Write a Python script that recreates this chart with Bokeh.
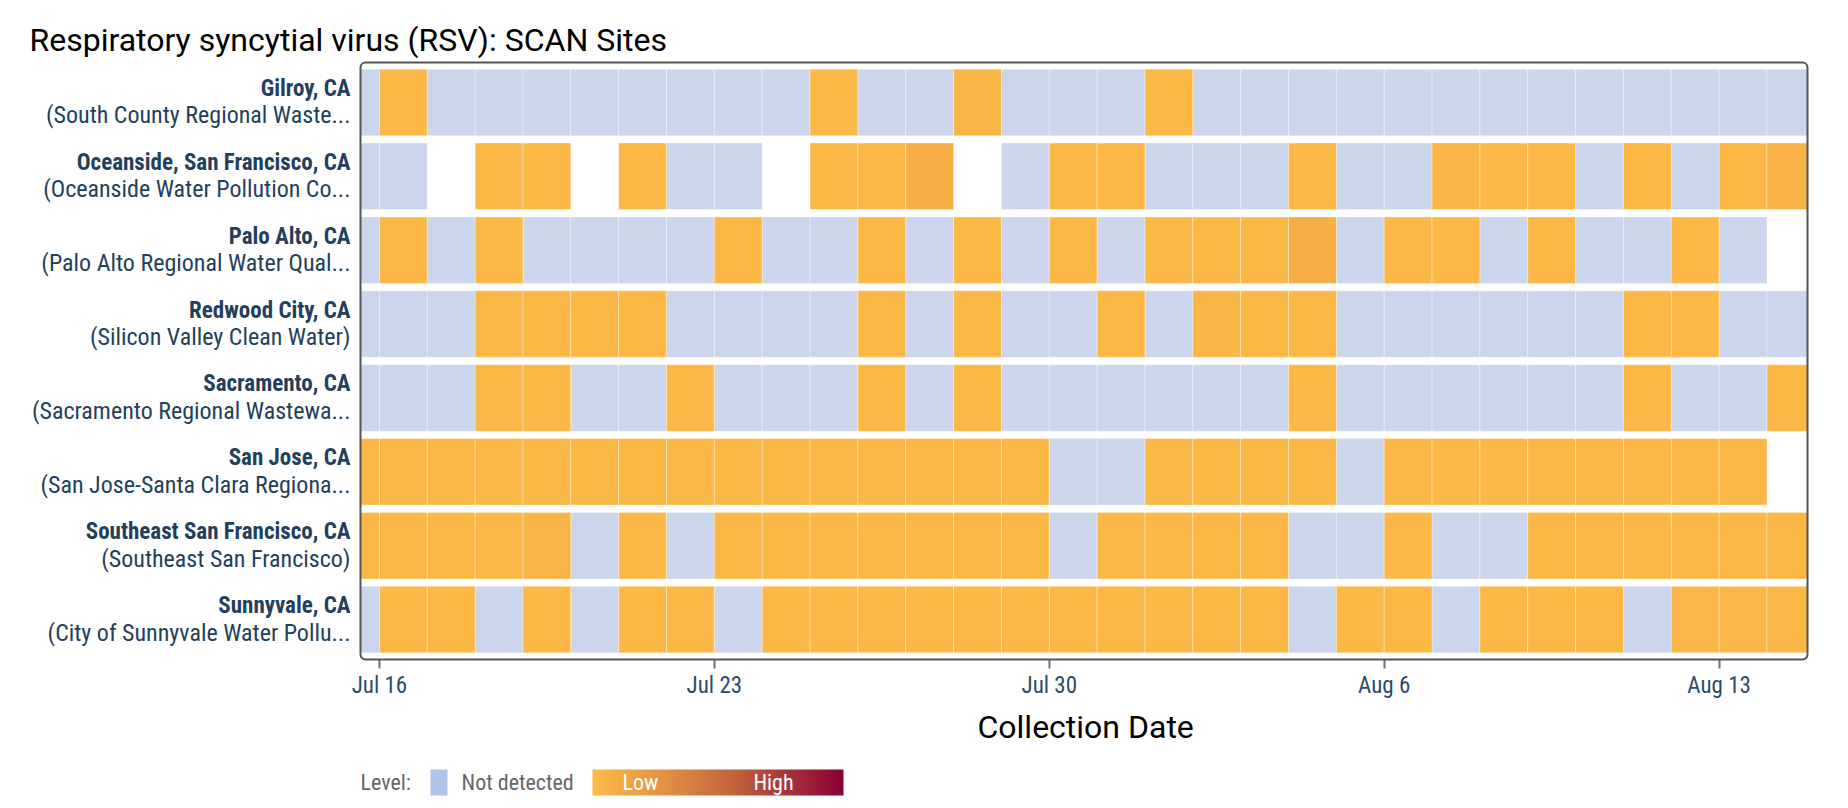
import numpy as np
import pandas as pd
from bokeh.plotting import figure
from bokeh.layouts import column
from bokeh.models import (Range1d, FixedTicker, ColumnDataSource, LinearColorMapper,
                          BoxAnnotation, Title)
from bokeh.transform import linear_cmap
from bokeh.core.properties import value
from bokeh.embed import file_html
from bokeh.resources import INLINE

N = None  # no sample collected that day

sites = ["Gilroy, CA", "Oceanside, San Francisco, CA", "Palo Alto, CA", "Redwood City, CA",
         "Sacramento, CA", "San Jose, CA", "Southeast San Francisco, CA", "Sunnyvale, CA"]
facilities = ["(South County Regional Waste...", "(Oceanside Water Pollution Co...",
              "(Palo Alto Regional Water Qual...", "(Silicon Valley Clean Water)",
              "(Sacramento Regional Wastewa...", "(San Jose-Santa Clara Regiona...",
              "(Southeast San Francisco)", "(City of Sunnyvale Water Pollu..."]

dates = pd.date_range("2023-07-15", "2023-08-14", freq="D")

# level per day, Jul 15 .. Aug 14 (0 = not detected, >0 = relative level on Low..High scale)
gilroy = [0, .02, 0, 0, 0, 0, 0, 0, 0, 0, .02, 0, 0, .05, 0, 0, 0,
          .02, 0, 0, 0, 0, 0, 0, 0, 0, 0, 0, 0, 0, 0]
oceanside = [0, 0, N, .02, .02, N, .02, 0, 0, N, .02, .02, .08, N, 0, .02, .02,
             0, 0, 0, .02, 0, 0, .04, .02, .02, 0, .02, 0, .02, .06]
palo_alto = [0, .02, 0, .02, 0, 0, 0, 0, .02, 0, 0, .02, 0, .02, 0, .02, 0,
             .02, .02, .02, .08, 0, .02, .02, 0, .02, 0, 0, .02, 0, N]
redwood_city = [0, 0, 0, .02, .02, .02, .02, 0, 0, 0, 0, .02, 0, .02, 0, 0, .02,
                0, .04, .02, .02, 0, 0, 0, 0, 0, 0, .02, .02, 0, 0]
sacramento = [0, 0, 0, .02, .02, 0, 0, .02, 0, 0, 0, .02, 0, .02, 0, 0, 0,
              0, 0, 0, .02, 0, 0, 0, 0, 0, 0, .02, 0, 0, .02]
san_jose = [.02, .02, .02, .02, .02, .02, .02, .02, .02, .02, .02, .02, .02, .02, .02, 0, 0,
            .02, .02, .02, .02, 0, .02, .02, .02, .02, .02, .02, .02, .02, N]
southeast_sf = [.02, .02, .02, .02, .05, 0, .02, 0, .02, .02, .02, .02, .02, .02, .02, 0, .02,
                .02, .02, .02, 0, 0, .02, 0, 0, .02, .02, .02, .02, .02, .02]
sunnyvale = [0, .02, .02, 0, .02, 0, .02, .02, 0, .02, .02, .02, .02, .02, .02, .02, .02,
             .02, .02, .02, 0, .02, .02, 0, .02, .02, .02, 0, .03, .03, .03]

series = [gilroy, oceanside, palo_alto, redwood_city, sacramento, san_jose, southeast_sf, sunnyvale]

tick_dates = ["2023-07-16", "2023-07-23", "2023-07-30", "2023-08-06", "2023-08-13"]
tick_labels = ["Jul 16", "Jul 23", "Jul 30", "Aug 6", "Aug 13"]

# ---------------- styling ----------------
COND = "'Roboto Condensed', 'Liberation Sans Narrow', 'DejaVu Sans Condensed', Roboto, sans-serif"
NAVY = "#233F5C"
ND_COLOR = "#CBD5EC"
stops = [(0.0, "#FDBB47"), (0.3, "#E18F42"), (0.55, "#C4653D"), (0.8, "#A2303A"), (1.0, "#8B0032")]


def make_palette(stops, n=256):
    xs = [s for s, _ in stops]
    rgb = np.array([[int(c[i:i + 2], 16) for i in (1, 3, 5)] for _, c in stops], dtype=float)
    t = np.linspace(0, 1, n)
    cols = np.stack([np.interp(t, xs, rgb[:, k]) for k in range(3)], axis=1)
    return ["#%02x%02x%02x" % tuple(int(round(v)) for v in c) for c in cols]


palette = make_palette(stops)
nsite = len(sites)
centers = [nsite - 1 - i + 0.5 for i in range(nsite)]

# visible date window of the heat map
x0 = pd.Timestamp("2023-07-15 14:30")
x1 = pd.Timestamp("2023-08-14 20:20")
one_day = pd.Timedelta(days=1)

nd = dict(left=[], right=[], bottom=[], top=[])
det = dict(left=[], right=[], bottom=[], top=[], level=[])
for yc, vals in zip(centers, series):
    for d, v in zip(dates, vals):
        if v is None:
            continue
        tgt = nd if v == 0 else det
        tgt["left"].append(max(d, x0))
        tgt["right"].append(min(d + one_day, x1))
        tgt["bottom"].append(yc - 0.45)
        tgt["top"].append(yc + 0.45)
        if v != 0:
            det["level"].append(v)

# ---------------- geometry (pixels) ----------------
W = 1840
H_MAIN = 758
H_LEG = 48
BOX_L, BOX_R = 360, 1807          # heat-map box, screen x
FRAME_R = 1810
FRAME_T, FRAME_B = 59, 662
ppd = (BOX_R - BOX_L) / ((x1 - x0) / one_day)
xs = x0 - pd.Timedelta(days=BOX_L / ppd)
xe = x1 + pd.Timedelta(days=(FRAME_R - BOX_R) / ppd)
ypad = 0.04
ppu = (FRAME_B - FRAME_T - 6) / (nsite + 2 * ypad)
yext = ypad + 3 / ppu

p = figure(width=W, height=H_MAIN, x_axis_type="datetime", y_axis_location=None,
           x_range=Range1d(xs, xe), y_range=Range1d(-yext, nsite + yext),
           output_backend="svg", toolbar_location=None,
           min_border_left=0, min_border_right=W - FRAME_R, min_border_top=FRAME_T,
           min_border_bottom=H_MAIN - FRAME_B)

p.quad(left="left", right="right", bottom="bottom", top="top", source=ColumnDataSource(nd),
       fill_color=ND_COLOR, line_color="white", line_alpha=0.35, line_width=1)
p.quad(left="left", right="right", bottom="bottom", top="top", source=ColumnDataSource(det),
       fill_color=linear_cmap("level", palette, 0, 1), line_color="white", line_alpha=0.35, line_width=1)

p.add_layout(BoxAnnotation(left=x0, right=x1, bottom=-ypad, top=nsite + ypad,
                           fill_color=None, fill_alpha=0, line_color="#555555", line_alpha=1,
                           line_width=2, border_radius=5, level="overlay"))

lab_src = ColumnDataSource(dict(x=[x0] * nsite, y=centers, site=sites, fac=facilities))
p.text(x="x", y="y", text="site", source=lab_src, x_offset=-10, y_offset=-14,
       text_align="right", text_baseline="middle", text_font=value(COND),
       text_font_size="23px", text_font_style="bold", text_color=NAVY)
p.text(x="x", y="y", text="fac", source=lab_src, x_offset=-10, y_offset=13,
       text_align="right", text_baseline="middle", text_font=value(COND),
       text_font_size="24px", text_font_style="normal", text_color=NAVY)

p.grid.visible = False
p.outline_line_color = None
p.background_fill_color = "white"
p.border_fill_color = "white"

p.title.text = "Respiratory syncytial virus (RSV): SCAN Sites"
p.title.text_font = "Roboto"
p.title.text_font_size = "32px"
p.title.text_font_style = "normal"
p.title.text_color = "black"
p.title.align = "left"
p.title.offset = 29
p.title.standoff = 2

ax = p.xaxis[0]
tick_ms = [pd.Timestamp(t).value // 10**6 for t in tick_dates]
ax.ticker = FixedTicker(ticks=tick_ms)
ax.major_label_overrides = {float(t): lab for t, lab in zip(tick_ms, tick_labels)}
ax.axis_line_color = None
ax.major_tick_line_color = "#707070"
ax.major_tick_line_width = 2
ax.major_tick_out = 6
ax.major_tick_in = 3
ax.minor_tick_line_color = None
ax.major_label_text_font = COND
ax.major_label_text_font_size = "23px"
ax.major_label_text_color = "#2D4B69"
ax.major_label_standoff = 3

p.add_layout(Title(text="Collection Date", align="left", offset=977, standoff=8,
                   text_font="Roboto", text_font_size="32px", text_font_style="normal",
                   text_color="black"), "below")

# ---------------- legend strip ----------------
leg = figure(width=W, height=H_LEG, x_range=Range1d(0, FRAME_R), y_range=Range1d(0, H_LEG),
             output_backend="svg", toolbar_location=None, x_axis_location=None, y_axis_location=None,
             min_border_left=0, min_border_right=W - FRAME_R, min_border_top=0, min_border_bottom=0)
leg.grid.visible = False
leg.outline_line_color = None
yl = 24
leg.text(x=[360], y=[yl], text=["Level:"], text_font=value(COND), text_font_size="22px",
         text_color="#666666", text_baseline="middle", text_align="left")
leg.rect(x=[438.5], y=[yl], width=17, height=26, fill_color="#B0C4E8", line_color=None)
leg.text(x=[461], y=[yl], text=["Not detected"], text_font=value(COND), text_font_size="22px",
         text_color="#666666", text_baseline="middle", text_align="left")
grad = np.linspace(0, 1, 256).reshape(1, -1)
leg.image(image=[grad], x=592, y=yl - 13, dw=251, dh=26,
          color_mapper=LinearColorMapper(palette=palette, low=0, high=1))
leg.text(x=[640, 773], y=[yl, yl], text=["Low", "High"], text_font=value(COND), text_font_size="22px",
         text_color="white", text_baseline="middle", text_align="center")

layout = column(p, leg, spacing=0)
open("out.html", "w").write(file_html(layout, INLINE))
